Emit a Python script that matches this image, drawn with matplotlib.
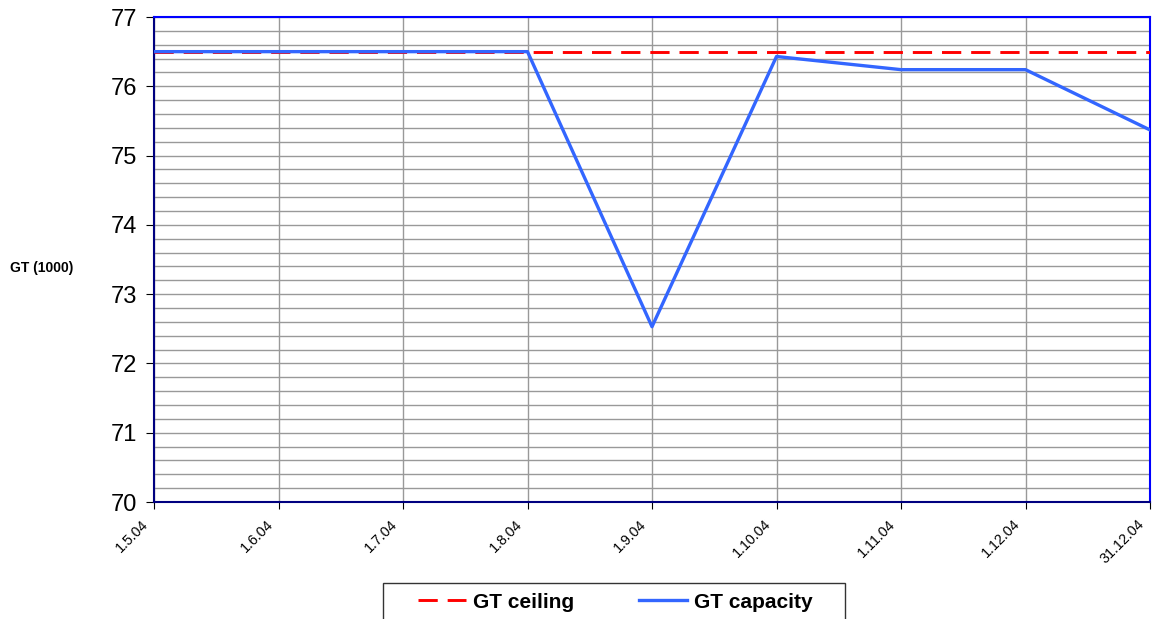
import matplotlib
matplotlib.use("Agg")
import matplotlib.pyplot as plt
import matplotlib.transforms as mtransforms
from matplotlib.patches import Rectangle
import numpy as np

# dates along the x axis and the two series (GT in thousands)
dates = ['1.5.04', '1.6.04', '1.7.04', '1.8.04', '1.9.04',
         '1.10.04', '1.11.04', '1.12.04', '31.12.04']
ceiling = [76.5, 76.5, 76.5, 76.5, 76.5, 76.5, 76.5, 76.5, 76.5]
capacity = [76.5, 76.5, 76.5, 76.5, 72.53, 76.43, 76.24, 76.24, 75.37]

plt.rcParams['font.family'] = ['Liberation Sans', 'DejaVu Sans']

W, H = 1152, 619
fig = plt.figure(figsize=(W / 100, H / 100), dpi=100)
ax = fig.add_axes([154 / W, 1 - 502 / H, (1150 - 154) / W, (502 - 17) / H])

x = np.arange(len(dates))
ax.plot(x, ceiling, color='#FF0000', lw=2.1, dashes=(6.6, 3.4), label='GT ceiling', zorder=3)
ax.plot(x, capacity, color='#3366FF', lw=2.4, label='GT capacity', zorder=4)

ax.set_xlim(0, len(dates) - 1)
ax.set_ylim(70, 77)
ax.set_xticks(x)
ax.set_xticklabels([])
# slanted date labels, ends sitting just left of and below each tick
base = mtransforms.blended_transform_factory(ax.transData, ax.transAxes)
shift = mtransforms.ScaledTranslation(-8 / 100, -20 / 100, fig.dpi_scale_trans)
for xi, d in zip(x, dates):
    ax.text(xi, 0, d, transform=base + shift, rotation=45, ha='right', va='center',
            rotation_mode='anchor', fontsize=10.3, clip_on=False)

ax.set_yticks(np.arange(70, 78, 1))
ax.set_yticks(np.arange(70, 77, 0.2), minor=True)
ax.tick_params(axis='y', labelsize=17, length=6, direction='out', pad=6)
ax.tick_params(axis='y', which='minor', length=0)
ax.tick_params(axis='x', length=5, direction='out')

ax.grid(True, which='major', color='#999999', lw=1)
ax.grid(True, which='minor', axis='y', color='#999999', lw=1)
ax.set_axisbelow(True)

for side in ['left', 'bottom']:
    ax.spines[side].set_color('#000080')
    ax.spines[side].set_linewidth(1.5)
for side in ['top', 'right']:
    ax.spines[side].set_color('#0000FF')
    ax.spines[side].set_linewidth(1.5)

fig.text(42 / W, 1 - 268 / H, 'GT (1000)', fontsize=10, fontweight='bold',
         ha='center', va='center')

# legend box runs off the bottom of the picture, so draw the frame by hand
fig.patches.append(Rectangle((383 / W, -0.05), (845 - 383) / W, 0.05 + 1 - 583 / H,
                             transform=fig.transFigure, fill=False,
                             edgecolor='#333333', lw=1))
leg = fig.legend(loc='center left', bbox_to_anchor=(418 / W, 1 - 602 / H),
                 ncol=2, frameon=False, prop={'size': 15, 'weight': 'bold'},
                 handlelength=2.3, handletextpad=0.35, columnspacing=3.1,
                 borderpad=0, borderaxespad=0)

fig.savefig('out.png', dpi=100)
